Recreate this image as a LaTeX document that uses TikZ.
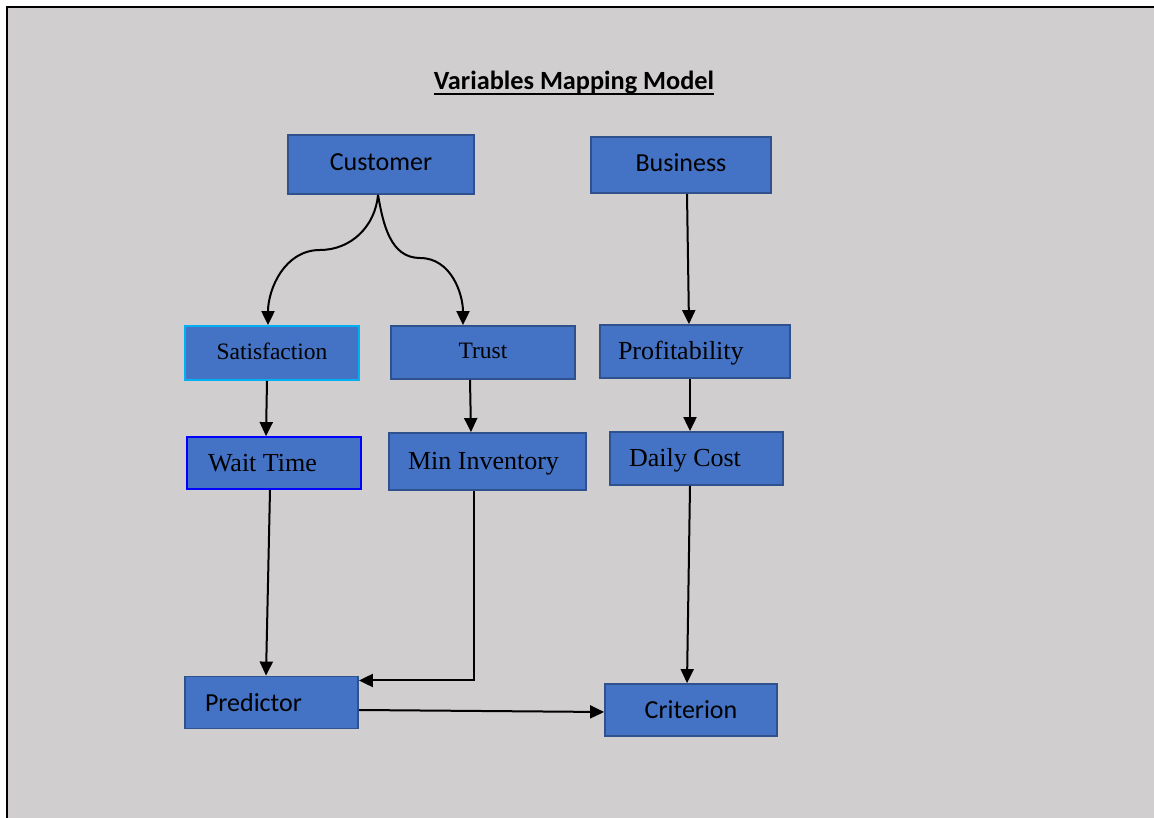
\documentclass[tikz,border=0pt]{standalone}
\usepackage{fontspec}
\setmainfont{Liberation Serif}
\newfontfamily\calibrifont{Carlito}
\usetikzlibrary{arrows.meta}

\definecolor{bggray}{HTML}{D0CECE}
\definecolor{boxfill}{HTML}{4472C4}
\definecolor{boxline}{HTML}{2F528F}
\definecolor{satline}{HTML}{00B0F0}
\definecolor{waitline}{HTML}{0000FF}

\tikzset{
	box/.style={draw=boxline, fill=boxfill, line width=1.8pt, inner xsep=20pt, text height=18pt, text depth=5pt},
	lowtext/.style={text height=20pt, text depth=3pt},
	cal/.style={font=\calibrifont\fontsize{26}{30}\selectfont},
	tms/.style={font=\fontsize{26}{30}\selectfont},
	tmssmall/.style={font=\fontsize{23.5}{28}\selectfont},
	arr/.style={line width=2pt, -{Triangle[length=14pt,width=13pt]}},
}

\begin{document}
\begin{tikzpicture}[x=1pt,y=1pt]
	\useasboundingbox (0,0) rectangle (1154,817);
	\clip (0,0) rectangle (1154,817);
	%Background sheet
	\fill [bggray] (7,-5) rectangle (1165,810);
	\draw [line width=2pt] (7,-5) to (7,810) to (1165,810);

	%Title
	\node [font=\calibrifont\bfseries\fontsize{26.3}{30}\selectfont, inner sep=0pt, anchor=base] (title) at (574,727) {Variables Mapping Model};
	\draw [line width=1.8pt] ([yshift=-4pt]title.base west) to ([yshift=-4pt]title.base east);

	%Top row
	\node [box, cal, minimum width=186pt, minimum height=59pt] (cust) at (381,652.5) {Customer};
	\node [box, cal, minimum width=180pt, minimum height=56pt] (bus) at (681,652) {Business};

	%Second row
	\node [box, tmssmall, draw=satline, minimum width=174pt, minimum height=54pt] (sat) at (272,464) {Satisfaction};
	\node [box, tmssmall, minimum width=184pt, minimum height=53pt] (trust) at (483,464.5) {Trust};
	\node [box, lowtext, tms, minimum width=190pt, minimum height=53pt, inner xsep=18pt, text width=154pt, align=flush left] (prof) at (695,465.5) {Profitability};

	%Third row
	\node [box, lowtext, tms, draw=waitline, minimum width=174pt, minimum height=52pt, inner xsep=21pt, text width=132pt, align=flush left] (wait) at (274,354) {Wait Time};
	\node [box, lowtext, tms, minimum width=197pt, minimum height=57pt, inner xsep=19pt, text width=159pt, align=flush left] (mininv) at (487.5,355.5) {Min Inventory};
	\node [box, lowtext, tms, minimum width=173pt, minimum height=53pt, inner xsep=19pt, text width=135pt, align=flush left] (cost) at (696.5,358.5) {Daily Cost};

	%Bottom row
	\node [box, lowtext, cal, minimum width=173pt, minimum height=52pt, inner xsep=20pt, text width=133pt, align=flush left] (pred) at (271.5,114.5) {Predictor};
	\node [box, lowtext, cal, minimum width=172pt, minimum height=52pt] (crit) at (691,107) {Criterion};

	%Curved arrows from Customer
	\coordinate (lbend) at (320,567);
	\coordinate (rbend) at (420,559);
	\draw [arr] ([xshift=-3pt]cust.south) to [out=265,in=0] (lbend) to [out=180,in=90] ([xshift=-4pt]sat.north);
	\draw [arr] ([xshift=-3pt]cust.south) to [out=280,in=180] (rbend) to [out=0,in=90] ([xshift=-20pt]trust.north);

	%Straight arrows
	\draw [arr] ([xshift=6pt]bus.south) to ([xshift=-6pt]prof.north);
	\draw [arr] ([xshift=-5pt]sat.south) to ([xshift=-8pt]wait.north);
	\draw [arr] ([xshift=-13pt]trust.south) to ([xshift=-16.5pt]mininv.north);
	\draw [arr] ([xshift=-5pt]prof.south) to ([xshift=-6.5pt]cost.north);
	\draw [arr] ([xshift=-4pt]wait.south) to ([xshift=-5.5pt]pred.north);
	\draw [arr] ([xshift=-14pt]mininv.south) |- ([yshift=22pt]pred.east);
	\draw [arr] ([xshift=-6.5pt]cost.south) to ([xshift=-4pt]crit.north);
	\draw [arr] ([yshift=-7.5pt]pred.east) to ([yshift=-2pt]crit.west);
\end{tikzpicture}
\end{document}
